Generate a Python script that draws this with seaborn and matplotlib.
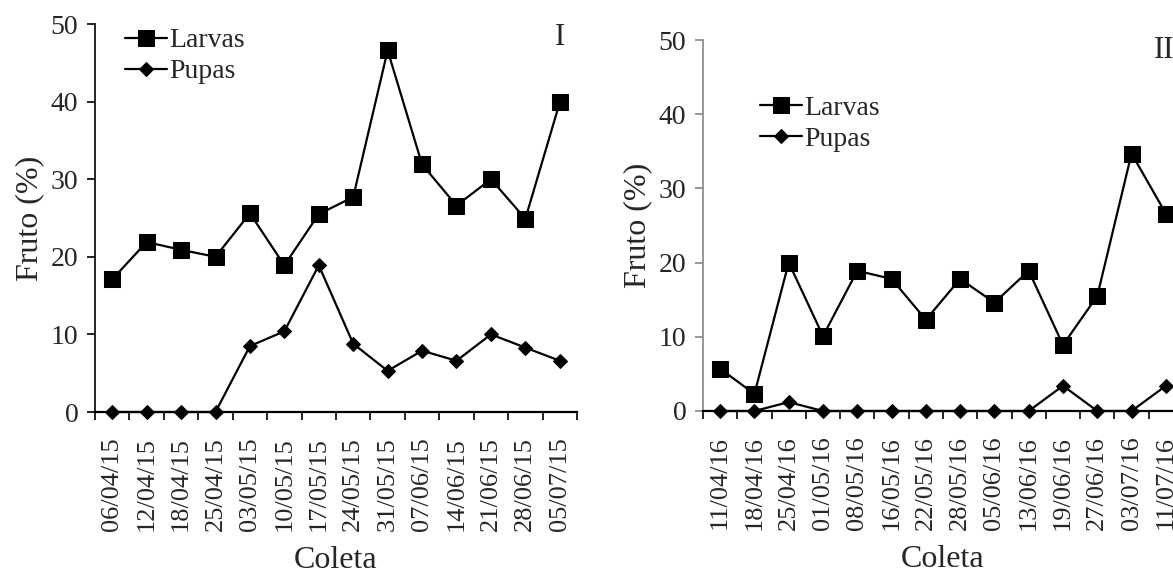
import matplotlib
matplotlib.use("Agg")
import matplotlib.pyplot as plt
import seaborn as sns
import pandas as pd
from matplotlib.ticker import FixedLocator, NullFormatter

sns.set_theme(style="white")
plt.rcParams["font.family"] = ["Liberation Serif", "DejaVu Serif"]

# Season I (2015)
dates_1 = ["06/04/15", "12/04/15", "18/04/15", "25/04/15", "03/05/15", "10/05/15",
           "17/05/15", "24/05/15", "31/05/15", "07/06/15", "14/06/15", "21/06/15",
           "28/06/15", "05/07/15"]
larvas_1 = [17.1, 21.9, 20.9, 20.0, 25.6, 18.9, 25.5, 27.7, 46.6, 31.9, 26.6, 30.0, 24.9, 39.9]
pupas_1 = [0, 0, 0, 0, 8.5, 10.4, 18.9, 8.8, 5.3, 7.9, 6.6, 10.0, 8.3, 6.6]

# Season II (2016)
dates_2 = ["11/04/16", "18/04/16", "25/04/16", "01/05/16", "08/05/16", "16/05/16",
           "22/05/16", "28/05/16", "05/06/16", "13/06/16", "19/06/16", "27/06/16",
           "03/07/16", "11/07/16"]
larvas_2 = [5.7, 2.3, 20.0, 10.1, 18.9, 17.8, 12.3, 17.8, 14.6, 18.9, 8.9, 15.5, 34.7, 26.6]
pupas_2 = [0, 0, 1.2, 0, 0, 0, 0, 0, 0, 0, 3.4, 0, 0, 3.4]

W, H = 1173, 579
fig = plt.figure(figsize=(W / 100, H / 100), dpi=100)

def px_axes(left, right, top, bottom):
    return fig.add_axes([left / W, 1 - bottom / H, (right - left) / W, (bottom - top) / H])

ax1 = px_axes(95, 577, 24, 412)
ax2 = px_axes(703, 1183, 40, 411)


def draw(ax, dates, larvas, pupas, ycolor, panel, panel_xy, leg_anchor):
    df = pd.DataFrame({"pos": range(len(dates)), "Larvas": larvas, "Pupas": pupas})
    sns.lineplot(data=df, x="pos", y="Larvas", ax=ax, color="black", lw=1.6,
                 marker="s", markersize=11, markeredgecolor="black",
                 markerfacecolor="black", label="Larvas", clip_on=False)
    sns.lineplot(data=df, x="pos", y="Pupas", ax=ax, color="black", lw=1.6,
                 marker="D", markersize=7.5, markeredgecolor="black",
                 markerfacecolor="black", label="Pupas", clip_on=False)
    n = len(dates)
    ax.set_xlim(-0.5, n - 0.5)
    ax.set_ylim(0, 50)
    ax.set_yticks([0, 10, 20, 30, 40, 50])
    ax.set_xticks(range(n))
    ax.set_xticklabels(dates, rotation=90, fontsize=19)
    ax.xaxis.set_minor_locator(FixedLocator([i - 0.5 for i in range(n + 1)]))
    ax.xaxis.set_minor_formatter(NullFormatter())
    ax.tick_params(axis="x", which="major", length=0, pad=18)
    ax.tick_params(axis="x", which="minor", length=6, width=1.2, color="black",
                   direction="out", bottom=True)
    ax.tick_params(axis="y", which="major", length=6, width=1.2, color=ycolor,
                   direction="out", left=True, labelsize=20, pad=6)
    for s in ("top", "right"):
        ax.spines[s].set_visible(False)
    ax.spines["left"].set_color(ycolor)
    ax.spines["left"].set_linewidth(1.2)
    ax.spines["bottom"].set_color("black")
    ax.spines["bottom"].set_linewidth(1.6)
    ax.set_ylabel("Fruto (%)", fontsize=23, labelpad=5)
    ax.set_xlabel("Coleta", fontsize=23, labelpad=11)
    ax.text(panel_xy[0], panel_xy[1], panel, transform=ax.transAxes, fontsize=22,
            ha="left", va="center")
    ax.legend(loc="upper left", bbox_to_anchor=leg_anchor, frameon=False,
              fontsize=20, handlelength=1.5, handletextpad=0.1, borderpad=0,
              labelspacing=0.2, borderaxespad=0)


draw(ax1, dates_1, larvas_1, pupas_1, "black", "I", (0.955, 0.964), (0.062, 0.99))
draw(ax2, dates_2, larvas_2, pupas_2, "#868686", "II", (0.94, 0.973), (0.119, 0.85))

fig.savefig("out.png", dpi=100)
